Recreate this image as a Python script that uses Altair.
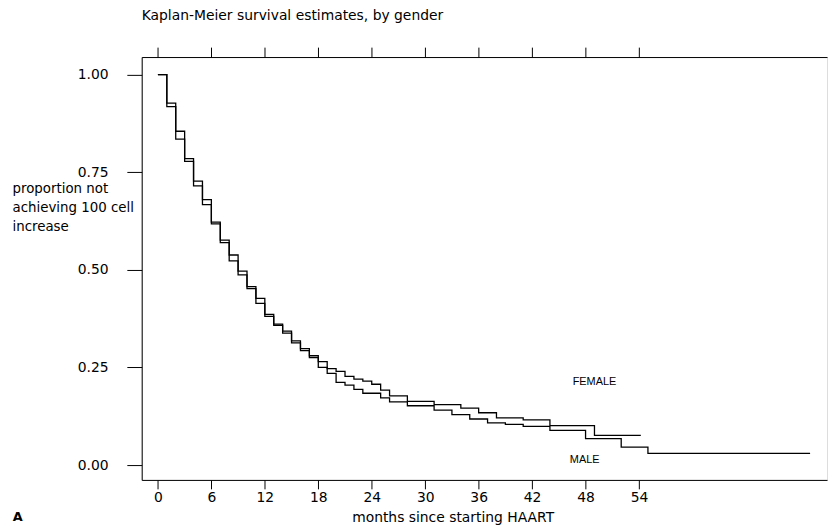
import altair as alt
import pandas as pd

# Kaplan-Meier step data (time in months, survival proportion)
female_t = [0, 1, 2, 3, 4, 5, 6, 7, 8, 9, 10, 11, 12, 13, 14, 15, 16, 17, 18, 19, 20,
            21, 22, 23, 24, 25, 26, 28, 31, 34, 36, 38, 41, 44, 49, 54.2]
female_s = [1.0, 0.927, 0.855, 0.785, 0.727, 0.680, 0.618, 0.576, 0.538, 0.497, 0.457,
            0.427, 0.386, 0.361, 0.343, 0.318, 0.298, 0.280, 0.265, 0.247, 0.240,
            0.227, 0.220, 0.215, 0.207, 0.192, 0.177, 0.163, 0.155, 0.146, 0.134,
            0.121, 0.116, 0.101, 0.076, 0.076]

male_t = [0, 1, 2, 3, 4, 5, 6, 7, 8, 9, 10, 11, 12, 13, 14, 15, 16, 17, 18, 19, 20,
          21, 22, 23, 25, 26, 28, 31, 33, 35, 37, 39, 41, 44, 48, 52, 55, 73.2]
male_s = [1.0, 0.918, 0.835, 0.778, 0.715, 0.667, 0.622, 0.570, 0.523, 0.487, 0.452,
          0.414, 0.381, 0.358, 0.338, 0.313, 0.293, 0.275, 0.250, 0.235, 0.212,
          0.205, 0.194, 0.184, 0.172, 0.162, 0.152, 0.141, 0.129, 0.118, 0.108,
          0.104, 0.099, 0.089, 0.068, 0.046, 0.030, 0.030]

label_text = ["FEMALE", "MALE"]
label_t = [49.0, 47.9]
label_s = [0.212, 0.013]

panel_text = ["A"]
panel_t = [-16.3]
panel_s = [-0.132]

x_ticks = [0, 6, 12, 18, 24, 30, 36, 42, 48, 54]
y_ticks = [0, 0.25, 0.5, 0.75, 1.0]

rows = [{"t": t, "s": s, "g": "FEMALE"} for t, s in zip(female_t, female_s)]
rows += [{"t": t, "s": s, "g": "MALE"} for t, s in zip(male_t, male_s)]
df = pd.DataFrame(rows)
labels = pd.DataFrame({"text": label_text, "t": label_t, "s": label_s})
panel = pd.DataFrame({"text": panel_text, "t": panel_t, "s": panel_s})

FONT = "DejaVu Sans"
xs = alt.Scale(domain=[-1.82, 75.1], nice=False, zero=False)
ys = alt.Scale(domain=[-0.038, 1.045], nice=False, zero=False)

lines = alt.Chart(df).mark_line(
    interpolate="step-after", color="black", strokeWidth=1.3
).encode(
    x=alt.X("t:Q", scale=xs, axis=alt.Axis(
        orient="bottom",
        values=x_ticks, title="months since starting HAART", grid=False,
        tickSize=9, labelPadding=2, labelFont=FONT, labelFontSize=14,
        titleFont=FONT, titleFontSize=14, titleFontWeight="normal",
        titleX=314, titleY=38, titleBaseline="middle",
        titleAlign="center",
        domainColor="black", tickColor="black", labelColor="black", titleColor="black")),
    y=alt.Y("s:Q", scale=ys, axis=alt.Axis(
        values=y_ticks, format=".2f", grid=False,
        title=["proportion not", "achieving 100 cell", "increase"],
        titleAngle=0, titleAlign="left", titleBaseline="top",
        titleX=-131, titleY=126, titleLineHeight=19,
        tickSize=15, labelPadding=19, labelFont=FONT, labelFontSize=14,
        titleFont=FONT, titleFontSize=13.5, titleFontWeight="normal",
        domainColor="black", tickColor="black", labelColor="black", titleColor="black")),
    detail="g:N",
)

lab = alt.Chart(labels).mark_text(
    font="Liberation Sans", fontSize=11, color="black", align="center", baseline="middle"
).encode(
    x=alt.X("t:Q", scale=xs, axis=alt.Axis(
        orient="top", values=x_ticks, labels=False, title=None, grid=False,
        tickSize=10, domainColor="black", tickColor="black")),
    y=alt.Y("s:Q", scale=ys),
    text="text:N",
)

pan = alt.Chart(panel).mark_text(
    font=FONT, fontSize=13, fontWeight="bold", color="black", align="left", baseline="middle"
).encode(
    x=alt.X("t:Q", scale=xs, axis=None),
    y=alt.Y("s:Q", scale=ys),
    text="text:N",
)

chart = alt.layer(lines, lab, pan).resolve_axis(x="independent").properties(
    width=692, height=427,
    title=alt.TitleParams("Kaplan-Meier survival estimates, by gender", anchor="start",
                          frame="group", font=FONT, fontSize=14, fontWeight="normal",
                          color="black", offset=24),
    autosize=alt.AutoSizeParams(type="none"),
    padding={"left": 135, "top": 47, "right": 1, "bottom": 44},
).configure_view(stroke="black", strokeWidth=1).configure(background="white")

chart.save("out.html", embed_options={"renderer": "svg", "actions": False})
